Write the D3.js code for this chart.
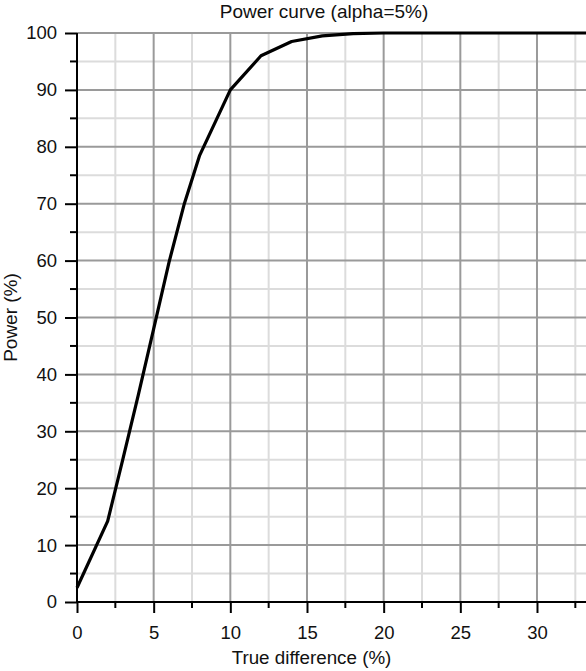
<!DOCTYPE html>
<html>
<head>
<meta charset="utf-8">
<script src="https://cdn.jsdelivr.net/npm/d3@7"></script>
<style>
  body { margin: 0; background: #fff; }
  svg { display: block; font-family: "Liberation Sans", Arial, sans-serif; }
</style>
</head>
<body>
<svg id="chart" width="586" height="671"></svg>
<script>
// difference (%) and power (%)
const diffs = [0, 2, 3, 4, 5, 6, 7, 8, 10, 12, 14, 16, 18, 20, 25, 30, 34];
const power = [2.5, 14.2, 25.2, 36.4, 48, 59.7, 70, 78.5, 90, 96, 98.5, 99.5, 99.9, 100, 100, 100, 100];
const xMajor = [0, 5, 10, 15, 20, 25, 30];
const xMinor = [2.5, 7.5, 12.5, 17.5, 22.5, 27.5, 32.5];
const yMajor = [0, 10, 20, 30, 40, 50, 60, 70, 80, 90, 100];
const yMinor = [5, 15, 25, 35, 45, 55, 65, 75, 85, 95];

const svg = d3.select("#chart");
const pLeft = 77, pTop = 33, pBottom = 602, pRight = 586;

const x = d3.scaleLinear().domain([0, 34]).range([pLeft, pLeft + 34 * 15.333]);
const y = d3.scaleLinear().domain([0, 100]).range([pBottom, pTop]);

// grid, light ones first
svg.append("g").selectAll("line")
    .data(xMinor)
    .enter()
    .append("line")
    .attr("x1", d => x(d)).attr("x2", d => x(d))
    .attr("y1", pTop).attr("y2", pBottom)
    .attr("stroke", "#dcdcdc").attr("stroke-width", 2)

svg.append("g").selectAll("line")
    .data(yMinor)
    .enter()
    .append("line")
    .attr("x1", pLeft).attr("x2", pRight)
    .attr("y1", d => y(d)).attr("y2", d => y(d))
    .attr("stroke", "#dcdcdc").attr("stroke-width", 2)

svg.append("g").selectAll("line")
    .data(xMajor.filter(d => d > 0))
    .enter()
    .append("line")
    .attr("x1", d => x(d)).attr("x2", d => x(d))
    .attr("y1", pTop).attr("y2", pBottom)
    .attr("stroke", "#9a9a9a").attr("stroke-width", 2)

svg.append("g").selectAll("line")
    .data(yMajor.filter(d => d > 0))
    .enter()
    .append("line")
    .attr("x1", pLeft).attr("x2", pRight)
    .attr("y1", d => y(d)).attr("y2", d => y(d))
    .attr("stroke", "#9a9a9a").attr("stroke-width", 2)

// axes
const xAxis = svg.append("g")
    .attr("transform", `translate(0,${pBottom})`)
    .call(d3.axisBottom(x).tickValues(xMajor).tickSize(11).tickPadding(13).tickFormat(d3.format("d")))
xAxis.select(".domain").remove()
xAxis.append("line")
    .attr("x1", pLeft - 1).attr("x2", pRight)
    .attr("stroke", "#000").attr("stroke-width", 2)
xAxis.selectAll(".tick line").attr("stroke-width", 2)
xAxis.selectAll("text").attr("font-size", 18.5).attr("fill", "#111")
xAxis.attr("font-family", null)

svg.append("g")
    .attr("transform", `translate(0,${pBottom})`)
    .selectAll("line")
    .data(xMinor)
    .enter()
    .append("line")
    .attr("x1", d => x(d)).attr("x2", d => x(d))
    .attr("y1", 0).attr("y2", 6)
    .attr("stroke", "#000").attr("stroke-width", 2)

const yAxis = svg.append("g")
    .attr("transform", `translate(${pLeft},0)`)
    .call(d3.axisLeft(y).tickValues(yMajor).tickSize(12).tickPadding(8))
yAxis.select(".domain").remove()
yAxis.append("line")
    .attr("y1", pTop).attr("y2", pBottom + 1)
    .attr("stroke", "#000").attr("stroke-width", 2)
yAxis.selectAll(".tick line").attr("stroke-width", 2)
yAxis.selectAll("text").attr("font-size", 18.5).attr("fill", "#111")
yAxis.attr("font-family", null)

svg.append("g")
    .attr("transform", `translate(${pLeft},0)`)
    .selectAll("line")
    .data(yMinor)
    .enter()
    .append("line")
    .attr("x1", -7).attr("x2", 0)
    .attr("y1", d => y(d)).attr("y2", d => y(d))
    .attr("stroke", "#000").attr("stroke-width", 2)

// the curve
const pts = diffs.map((d, i) => [d, power[i]]);
svg.append("path")
    .datum(pts)
    .attr("fill", "none")
    .attr("stroke", "#000")
    .attr("stroke-width", 3.2)
    .attr("stroke-linejoin", "round")
    .attr("d", d3.line().x(d => x(d[0])).y(d => y(d[1])))

// labels
svg.append("text")
    .attr("x", 324).attr("y", 17.5)
    .attr("text-anchor", "middle")
    .attr("font-size", 19)
    .attr("fill", "#111")
    .text("Power curve (alpha=5%)")

svg.append("text")
    .attr("x", 311.5).attr("y", 663.5)
    .attr("text-anchor", "middle")
    .attr("font-size", 18.8)
    .attr("fill", "#111")
    .text("True difference (%)")

svg.append("text")
    .attr("transform", `translate(17,${(pTop + pBottom) / 2}) rotate(-90)`)
    .attr("text-anchor", "middle")
    .attr("font-size", 19)
    .attr("fill", "#111")
    .text("Power (%)")
</script>
</body>
</html>
